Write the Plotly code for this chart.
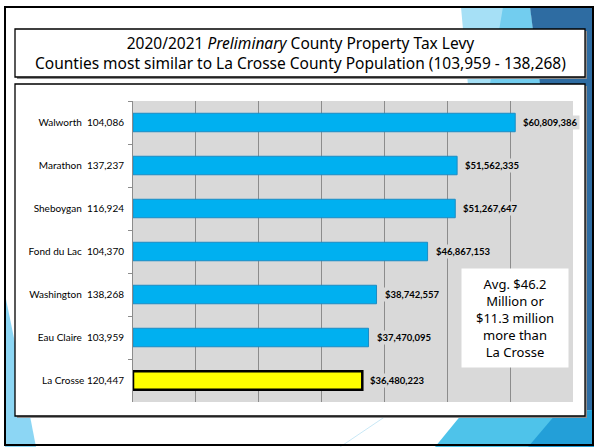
import plotly.graph_objects as go

# ---- data ----
counties = ["Walworth", "Marathon", "Sheboygan", "Fond du Lac", "Washington", "Eau Claire", "La Crosse"]
populations = ["104,086", "137,237", "116,924", "104,370", "138,268", "103,959", "120,447"]
levies = [60809386, 51562335, 51267647, 46867153, 38742557, 37470095, 36480223]
title_line1 = "2020/2021 <i>Preliminary</i> County Property Tax Levy"
title_line2 = "Counties most similar to La Crosse County Population (103,959 - 138,268)"
note_text = "Avg. $46.2<br>Million or<br>$11.3 million<br>more than<br>La Crosse"
highlight = "La Crosse"

labels = [f"{c}  {p}" if c != highlight else f"{c} {p}" for c, p in zip(counties, populations)]

# ---- layout geometry (pixels) ----
FW, FH = 594, 447
L, R, T, B = 133, 573, 101, 402


def px(x):
    return (x - L) / (R - L)


def py(y):
    return (B - y) / (B - T)


def poly(points):
    d = "M " + " L ".join(f"{px(x):.5f},{py(y):.5f}" for x, y in points) + " Z"
    return d


colors = ["#FFFF00" if c == highlight else "#00B0F0" for c in counties]
line_colors = ["#000000" if c == highlight else "#1C8CC4" for c in counties]
line_widths = [2.5 if c == highlight else 1 for c in counties]

fig = go.Figure()
fig.add_trace(go.Bar(
    x=levies,
    y=labels,
    orientation="h",
    marker=dict(color=colors, line=dict(color=line_colors, width=line_widths)),
    width=0.43,
    hoverinfo="skip",
))

shapes = []
# background decorations
shapes.append(dict(type="path", path=poly([(461, 7), (530, 7), (545, 120), (593, 445), (500, 445)]),
                   xref="paper", yref="paper", fillcolor="#A6E0F6", line=dict(width=0), layer="below"))
shapes.append(dict(type="path", path=poly([(503, 7), (530, 7), (541, 90), (490, 84)]),
                   xref="paper", yref="paper", fillcolor="#72CDEF", line=dict(width=0), layer="below"))
shapes.append(dict(type="path", path=poly([(530, 7), (594, 7), (594, 420), (586, 420), (540, 84)]),
                   xref="paper", yref="paper", fillcolor="#2E6CA2", line=dict(width=0), layer="below"))
shapes.append(dict(type="path", path=poly([(435, 447), (462, 414), (594, 410), (594, 447)]),
                   xref="paper", yref="paper", fillcolor="#4EC3EA", line=dict(width=0), layer="below"))
shapes.append(dict(type="path", path=poly([(528, 447), (556, 414), (594, 410), (594, 447)]),
                   xref="paper", yref="paper", fillcolor="#239FD8", line=dict(width=0), layer="below"))
shapes.append(dict(type="path", path=poly([(0, 270), (30, 416), (36, 447), (0, 447)]),
                   xref="paper", yref="paper", fillcolor="#8CD6F4", line=dict(width=0), layer="below"))
shapes.append(dict(type="line", x0=px(340), y0=py(447), x1=px(386), y1=py(416),
                   xref="paper", yref="paper", line=dict(color="#C9E8F6", width=1), layer="below"))
# white outside the slide frame
shapes.append(dict(type="rect", x0=px(0), x1=px(5), y0=py(0), y1=py(447),
                   xref="paper", yref="paper", fillcolor="#FFFFFF", line=dict(width=0), layer="below"))
shapes.append(dict(type="rect", x0=px(0), x1=px(594), y0=py(0), y1=py(7),
                   xref="paper", yref="paper", fillcolor="#FFFFFF", line=dict(width=0), layer="below"))
# outer slide frame
shapes.append(dict(type="rect", x0=px(5), x1=px(593), y0=py(7), y1=py(445),
                   xref="paper", yref="paper", line=dict(color="#000000", width=2), layer="below"))
# title box with shadow
shapes.append(dict(type="rect", x0=px(17), x1=px(587), y0=py(31), y1=py(79),
                   xref="paper", yref="paper", fillcolor="#8C8C8C", line=dict(width=0), layer="below"))
shapes.append(dict(type="rect", x0=px(15), x1=px(585), y0=py(29), y1=py(77),
                   xref="paper", yref="paper", fillcolor="#FFFFFF", line=dict(color="#000000", width=1.3), layer="below"))
# chart box with shadow
shapes.append(dict(type="rect", x0=px(17), x1=px(587), y0=py(86), y1=py(418),
                   xref="paper", yref="paper", fillcolor="#8C8C8C", line=dict(width=0), layer="below"))
shapes.append(dict(type="rect", x0=px(15), x1=px(585), y0=py(84), y1=py(416),
                   xref="paper", yref="paper", fillcolor="#FFFFFF", line=dict(color="#000000", width=1.3), layer="below"))
# plot area background
shapes.append(dict(type="rect", x0=0, x1=1, y0=0, y1=1,
                   xref="paper", yref="paper", fillcolor="#D9D9D9", line=dict(width=0), layer="below"))

annotations = []
annotations.append(dict(text=title_line1 + "<br>" + title_line2, x=px(300), y=py(53.5),
                        xref="paper", yref="paper", showarrow=False,
                        xanchor="center", yanchor="middle", align="center",
                        font=dict(family="Noto Sans", size=15.5, color="#000000")))
# value labels
for lab, v in zip(labels, levies):
    annotations.append(dict(text=f"<b>${v:,}</b>", x=v, y=lab, xref="x", yref="y",
                            showarrow=False, xanchor="left", yanchor="middle", xshift=6,
                            bgcolor="#D9D9D9", borderpad=1,
                            font=dict(family="Lato", size=9.5, color="#000000")))
# note box
annotations.append(dict(text=note_text, x=px(515), y=py(318), xref="paper", yref="paper",
                        showarrow=False, xanchor="center", yanchor="middle",
                        width=104, height=96, bgcolor="#FFFFFF", align="center",
                        font=dict(family="Noto Sans", size=13, color="#000000")))

fig.update_layout(
    width=FW, height=FH, autosize=False,
    margin=dict(l=L, r=FW - R, t=T, b=FH - B, pad=0),
    paper_bgcolor="#FFFFFF",
    plot_bgcolor="rgba(0,0,0,0)",
    showlegend=False,
    bargap=0.57,
    shapes=shapes,
    annotations=annotations,
    xaxis=dict(range=[0, 70000000], dtick=10000000, showticklabels=False,
               showgrid=True, gridcolor="#8C8C8C", gridwidth=1, zeroline=False,
               showline=False, fixedrange=True),
    yaxis=dict(categoryorder="array", categoryarray=labels, autorange="reversed",
               showline=True, linecolor="#8C8C8C", linewidth=1,
               ticks="outside", tickson="boundaries", ticklen=4, tickcolor="#8C8C8C",
               showgrid=False, zeroline=False, ticklabelstandoff=6,
               tickfont=dict(family="Lato", size=10, color="#000000"), fixedrange=True),
)

fig.write_html("out.html", config={"displayModeBar": False},
               post_script="document.body.style.margin='0';document.body.style.overflow='hidden';")
